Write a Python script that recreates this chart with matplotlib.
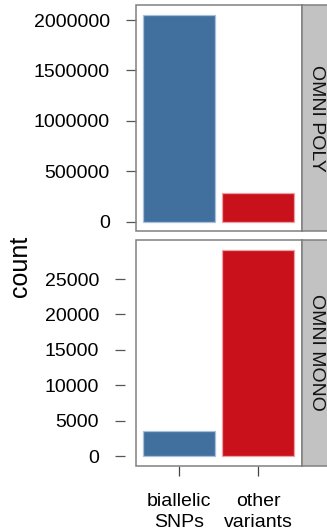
import matplotlib
matplotlib.use("Agg")
import matplotlib.pyplot as plt
from matplotlib.patches import Rectangle

plt.rcParams["font.family"] = ["Liberation Sans", "DejaVu Sans"]

categories = ["biallelic\nSNPs", "other\nvariants"]
panels = ["OMNI POLY", "OMNI MONO"]
poly_counts = [2052700, 288100]
mono_counts = [3490, 29140]
poly_ticks = [0, 500000, 1000000, 1500000, 2000000]
mono_ticks = [0, 5000, 10000, 15000, 20000, 25000]

bar_colors = ["#41709f", "#c8111b"]
edge_colors = ["#a9c0da", "#eba1a5"]
border = "#808080"
strip_bg = "#c2c2c2"
FS = 14

W, H = 327, 531
fig = plt.figure(figsize=(W / 100, H / 100), dpi=100)

def frac_box(x0, y0, x1, y1):
    return [x0 / W, 1 - y1 / H, (x1 - x0) / W, (y1 - y0) / H]

panel_boxes = [(135.7, 5.0, 301.7, 231.3), (135.7, 240.0, 301.7, 465.7)]
data = [poly_counts, mono_counts]
ticks = [poly_ticks, mono_ticks]
tick_offsets = [0, 7.7]

x = [1, 2]
for i, (box, vals, tks, name) in enumerate(zip(panel_boxes, data, ticks, panels)):
    ax = fig.add_axes(frac_box(*box))
    ax.bar(x, vals, width=0.915, color=bar_colors, edgecolor=edge_colors,
           linewidth=0.9)
    vmax = max(vals)
    pad = 0.047 * vmax
    ax.set_ylim(-pad, vmax + pad)
    ax.set_xlim(0.445, 2.555)
    for s in ax.spines.values():
        s.set_visible(False)
    ax.spines["left"].set_position(("outward", tick_offsets[i]))
    ax.add_patch(Rectangle((0, 0), 1, 1, transform=ax.transAxes, fill=False,
                           edgecolor=border, linewidth=1.1, clip_on=False,
                           zorder=5))
    ax.set_yticks(tks)
    ax.set_yticklabels([str(t) for t in tks])
    ax.tick_params(axis="y", direction="out", length=7.2, width=0.9,
                   color="#555555", pad=11.5, labelsize=FS)
    if i == 1:
        ax.set_xticks(x)
        ax.set_xticklabels(categories, linespacing=1.25)
        ax.tick_params(axis="x", direction="out", length=7.0, width=0.9,
                       color="#444444", pad=13, labelsize=FS)
    else:
        ax.set_xticks([])

    # strip on the right side of each panel
    sx = fig.add_axes(frac_box(box[2], box[1], 330.6, box[3]))
    sx.set_xticks([])
    sx.set_yticks([])
    sx.set_facecolor(strip_bg)
    for s in sx.spines.values():
        s.set_edgecolor(border)
        s.set_linewidth(1.1)
    sx.text(0.5, 0.5, name, rotation=-90, ha="center", va="center",
            fontsize=FS, color="#111111", transform=sx.transAxes)

fig.text(20 / W, 1 - 266 / H, "count", rotation=90, ha="center", va="center",
         fontsize=18)

fig.savefig("out.png", dpi=100)
